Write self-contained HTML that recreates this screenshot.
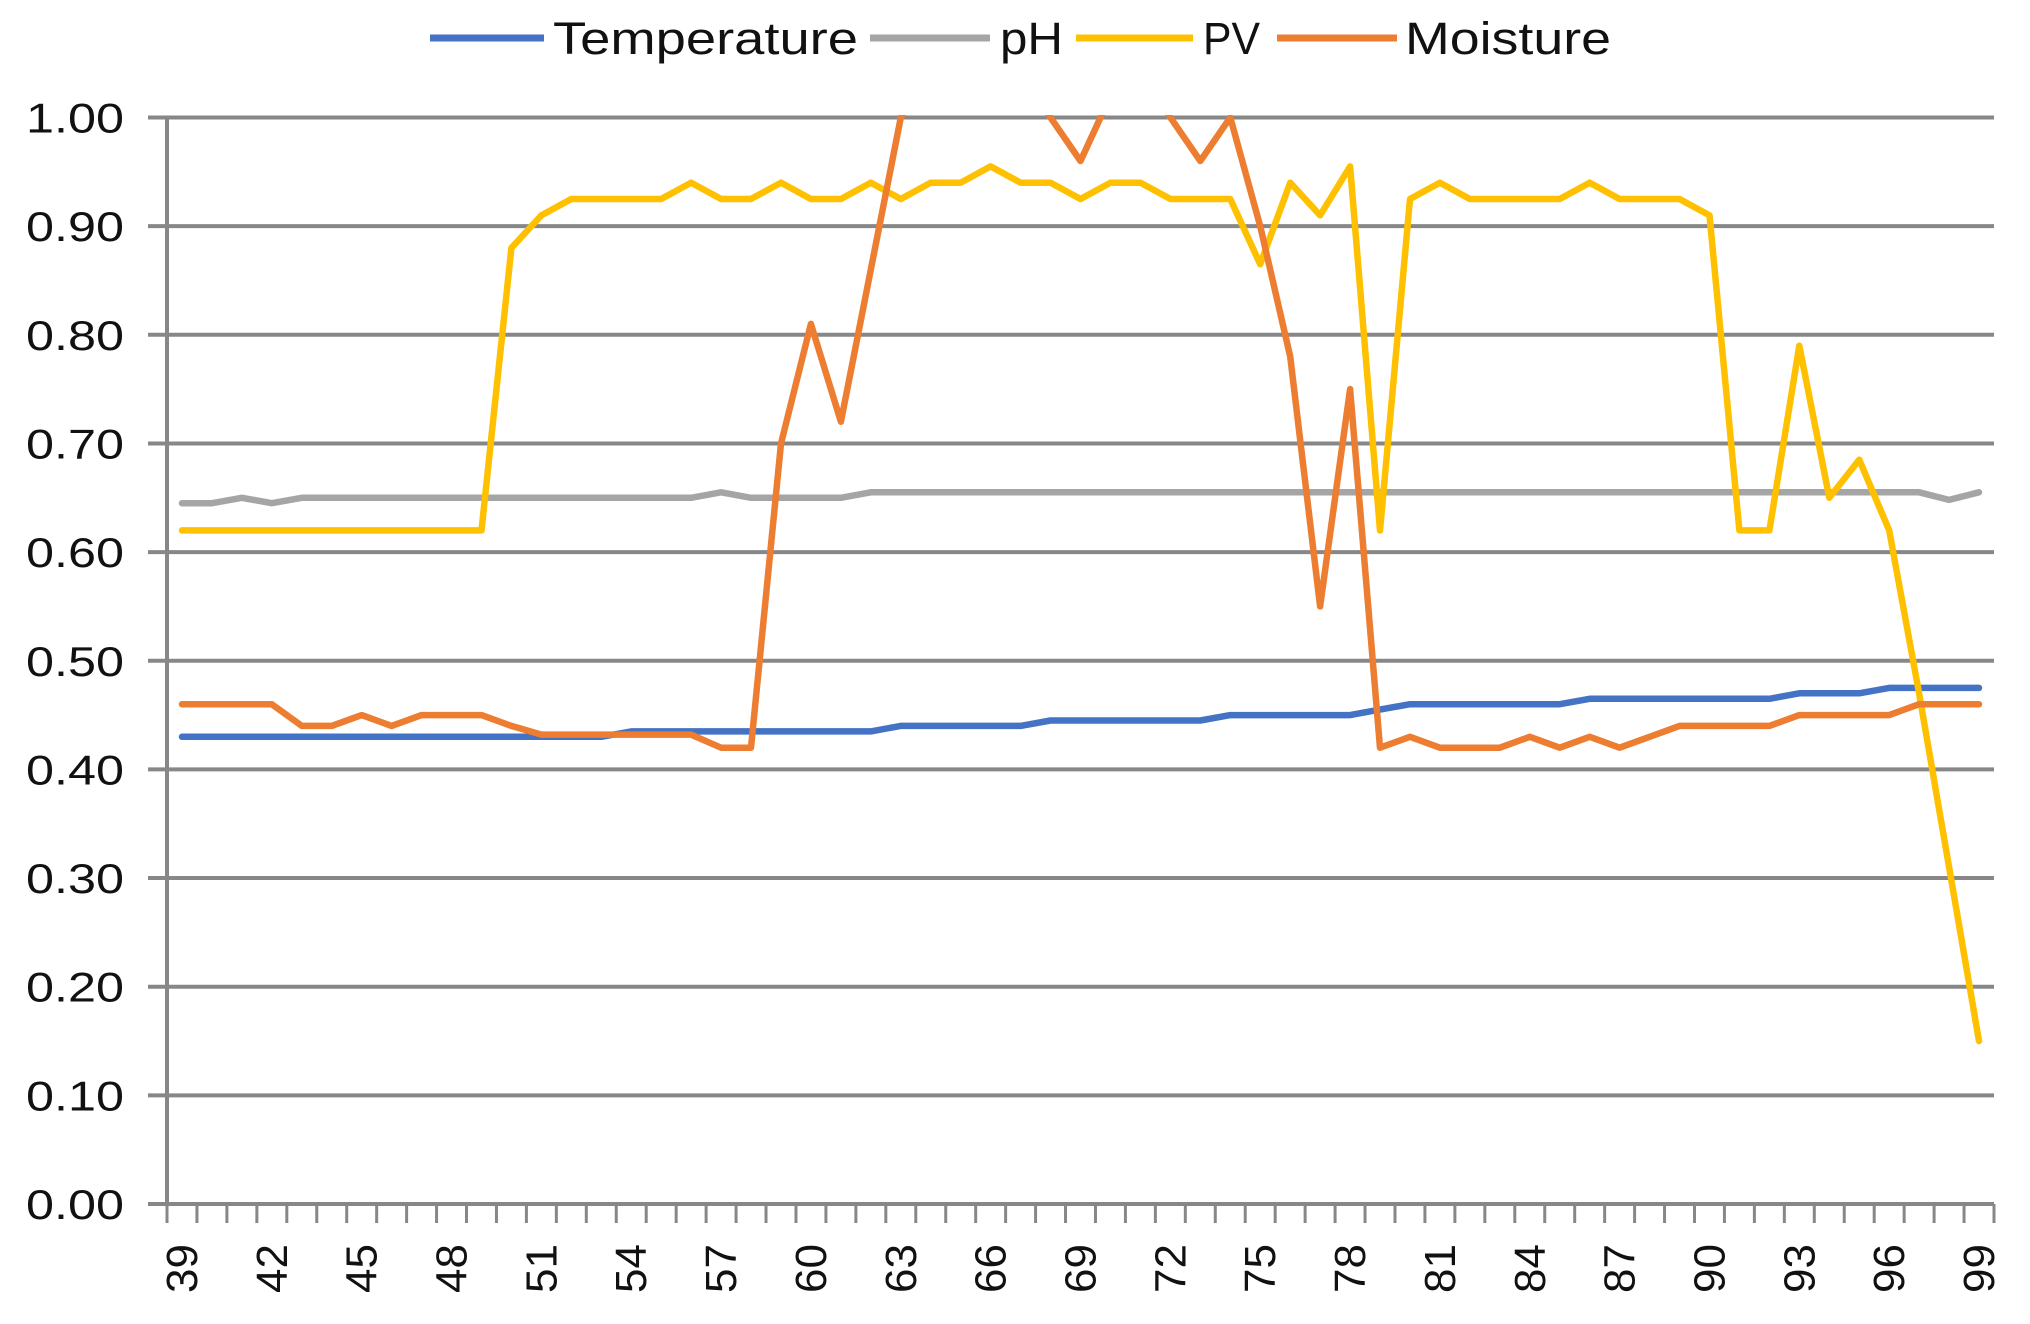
<!DOCTYPE html>
<html><head><meta charset="utf-8"><style>
html,body{margin:0;padding:0;background:#fff;}
svg{display:block;font-family:"Liberation Sans",sans-serif;}
</style></head><body>
<svg id="chart" width="2030" height="1324" viewBox="0 0 2030 1324" xmlns="http://www.w3.org/2000/svg">
<defs><clipPath id="plotclip"><rect x="150" y="115" width="1850" height="1095"/></clipPath></defs>
<g id="grid"></g>
<g id="axes"></g>
<g id="series" clip-path="url(#plotclip)"></g>
<g id="legend"></g>
</svg>
<script>
const categories = [];
for (let c = 39; c <= 99; c++) categories.push(c);
const yTicks = [0,0.1,0.2,0.3,0.4,0.5,0.6,0.7,0.8,0.9,1.0];
const yTickLabels = ["0.00","0.10","0.20","0.30","0.40","0.50","0.60","0.70","0.80","0.90","1.00"];
const seriesNames = ["Temperature","pH","PV","Moisture"];
const temperature = [0.43,0.43,0.43,0.43,0.43,0.43,0.43,0.43,0.43,0.43,0.43,0.43,0.43,0.43,0.43,0.435,0.435,0.435,0.435,0.435,0.435,0.435,0.435,0.435,0.44,0.44,0.44,0.44,0.44,0.445,0.445,0.445,0.445,0.445,0.445,0.45,0.45,0.45,0.45,0.45,0.455,0.46,0.46,0.46,0.46,0.46,0.46,0.465,0.465,0.465,0.465,0.465,0.465,0.465,0.47,0.47,0.47,0.475,0.475,0.475,0.475];
const ph = [0.645,0.645,0.65,0.645,0.65,0.65,0.65,0.65,0.65,0.65,0.65,0.65,0.65,0.65,0.65,0.65,0.65,0.65,0.655,0.65,0.65,0.65,0.65,0.655,0.655,0.655,0.655,0.655,0.655,0.655,0.655,0.655,0.655,0.655,0.655,0.655,0.655,0.655,0.655,0.655,0.655,0.655,0.655,0.655,0.655,0.655,0.655,0.655,0.655,0.655,0.655,0.655,0.655,0.655,0.655,0.655,0.655,0.655,0.655,0.648,0.655];
const pv = [0.62,0.62,0.62,0.62,0.62,0.62,0.62,0.62,0.62,0.62,0.62,0.88,0.91,0.925,0.925,0.925,0.925,0.94,0.925,0.925,0.94,0.925,0.925,0.94,0.925,0.94,0.94,0.955,0.94,0.94,0.925,0.94,0.94,0.925,0.925,0.925,0.865,0.94,0.91,0.955,0.62,0.925,0.94,0.925,0.925,0.925,0.925,0.94,0.925,0.925,0.925,0.91,0.62,0.62,0.79,0.65,0.685,0.62,0.47,0.31,0.15];
const moisture = [0.46,0.46,0.46,0.46,0.44,0.44,0.45,0.44,0.45,0.45,0.45,0.44,0.432,0.432,0.432,0.432,0.432,0.432,0.42,0.42,0.70,0.81,0.72,0.86,1.0,1.05,1.08,1.08,1.05,1.0,0.96,1.02,1.05,1.0,0.96,1.0,0.90,0.78,0.55,0.75,0.42,0.43,0.42,0.42,0.42,0.43,0.42,0.43,0.42,0.43,0.44,0.44,0.44,0.44,0.45,0.45,0.45,0.45,0.46,0.46,0.46];
const seriesData = [temperature, ph, pv, moisture];
const colors = ["#4472C4","#A5A5A5","#FFC000","#ED7D31"];

const NS = "http://www.w3.org/2000/svg";
const X0 = 167, X1 = 1994, Y0 = 1204, Y1 = 117.5;
const step = (X1 - X0) / categories.length;
function xScale(i){ return X0 + step * (i + 0.5); }
function yScale(v){ return Y0 - (v / 1.0) * (Y0 - Y1); }
function mk(tag, attrs, parent){ const e = document.createElementNS(NS, tag); for (const k in attrs) e.setAttribute(k, attrs[k]); parent.appendChild(e); return e; }

const grid = document.getElementById('grid');
const axes = document.getElementById('axes');
yTicks.forEach((t, i) => {
  const y = yScale(t);
  if (t > 0) {
    const l = mk('line', {x1:148, x2:X1, y1:y, y2:y, stroke:'#878787', 'stroke-width':4}, grid);
    
    
  }
  const tx = mk('text', {x:124, y:y+15, 'text-anchor':'end', 'font-size':42, fill:'#111', textLength:98, lengthAdjust:'spacingAndGlyphs'}, axes);
  tx.textContent = yTickLabels[i];
  
  
});
const ya = mk('line', {x1:X0, x2:X0, y1:Y1, y2:Y0, stroke:'#878787', 'stroke-width':4}, axes);


const xa = mk('line', {x1:148, x2:X1, y1:Y0, y2:Y0, stroke:'#878787', 'stroke-width':4}, axes);


for (let i = 0; i <= categories.length; i++) {
  const x = X0 + step * i;
  const tk = mk('line', {x1:x, x2:x, y1:Y0, y2:1223, stroke:'#878787', 'stroke-width':3}, axes);
  
  
}
categories.forEach((c, i) => {
  if ((c - 39) % 3 !== 0) return;
  const x = xScale(i) + 15;
  const tx = mk('text', {x:x, y:1244, transform:'rotate(-90 '+x+' 1244)', 'text-anchor':'end', 'font-size':44, fill:'#111'}, axes);
  tx.textContent = String(c);
  
  
});

const sg = document.getElementById('series');
seriesData.forEach((arr, s) => {
  const pts = arr.map((v, i) => xScale(i).toFixed(1) + ',' + yScale(v).toFixed(1)).join(' ');
  const pl = mk('polyline', {points:pts, fill:'none', stroke:colors[s], 'stroke-width':6.5, 'stroke-linejoin':'round', 'stroke-linecap':'round'}, sg);
  
  
});

const lg = document.getElementById('legend');
const legendPos = [[430,544,553,305],[870,990,1000,63],[1076,1193,1203,57],[1277,1397,1405,206]];
seriesNames.forEach((n, s) => {
  const p = legendPos[s];
  const ln = mk('line', {x1:p[0], x2:p[1], y1:38, y2:38, stroke:colors[s], 'stroke-width':7}, lg);
  
  
  const tx = mk('text', {x:p[2], y:54, 'font-size':45, fill:'#111', textLength:p[3], lengthAdjust:'spacingAndGlyphs'}, lg);
  tx.textContent = n;
  
  
});
</script>
</body></html>
